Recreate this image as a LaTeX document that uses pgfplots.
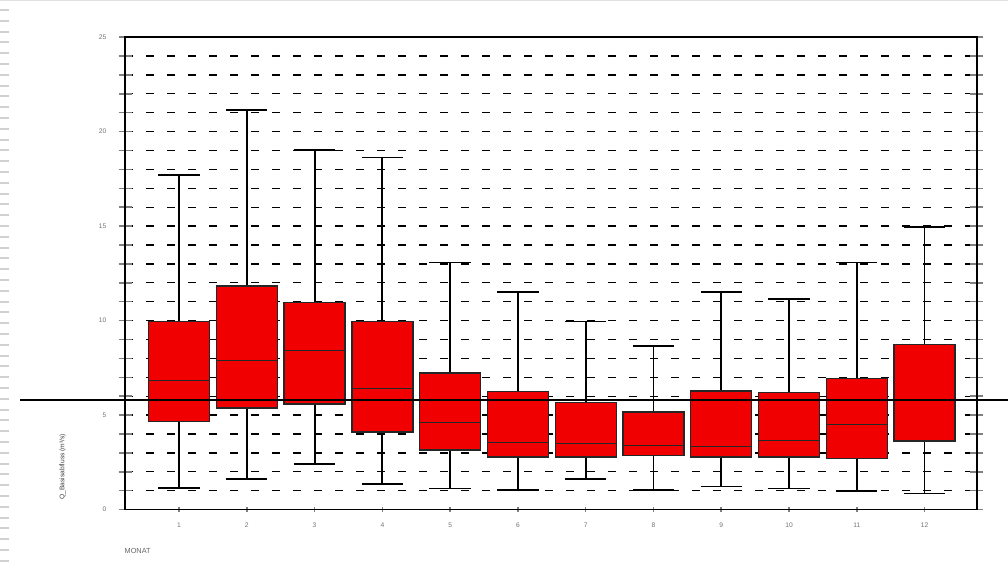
\documentclass[border=0pt]{standalone}
\usepackage{fontspec}
\setmainfont{Liberation Sans}
\usepackage{pgfplots}
\pgfplotsset{compat=1.18}
\usepgfplotslibrary{statistics}
\definecolor{boxred}{RGB}{240,0,0}
\begin{document}
\begin{tikzpicture}
\useasboundingbox (-93.98pt,-45.3pt) rectangle (662.0pt,382.2pt);
\fill[white] (-93.98pt,-45.3pt) rectangle (662.0pt,382.2pt);
\foreach \i in {0,...,52} { \draw[black!18, line width=1.6pt] (-93.98pt,{382.2pt-(10+10.8*\i)*0.75pt}) -- ++(6.8pt,0); }
\draw[black!12, line width=1pt] (-93.98pt,381.7pt) -- (662pt,381.7pt);
\begin{axis}[
  scale only axis, width=638.55pt, height=354.4pt,
  xmin=0.207, xmax=12.77, ymin=0, ymax=25,
  clip=false,
  axis line style={line width=1.3pt},
  xtick={1,...,12}, ytick={0,5,...,25}, minor ytick={1,...,24},
  xtick pos=left, ytick pos=both,
  tick align=center,
  major tick length=9.5pt, minor tick length=9.5pt,
  xtick style={/pgfplots/major tick length=4pt, line width=1.2pt},
  ytick style={line width=1.1pt},
  minor tick style={line width=1.1pt},
  ymajorgrids, yminorgrids,
  major grid style={black, dash pattern=on 6pt off 9.75pt, line width=1pt},
  minor grid style={black, dash pattern=on 6pt off 9.75pt, line width=1pt},
  /pgf/number format/assume math mode=true,
  ticklabel style={font=\fontsize{5}{6}\selectfont, color=black!55},
  yticklabel style={xshift=-6pt},
  xticklabel style={yshift=-2pt},
  xlabel={MONAT},
  xlabel style={at={(axis description cs:-0.0063,-0.0875)}, anchor=west, font=\fontsize{5.5}{6}\selectfont, color=black!60},
  ylabel={Q\_Basisabfluss (m³/s)},
  ylabel style={at={(axis description cs:-0.0736,0.0113)}, anchor=west, font=\fontsize{5}{6}\selectfont, color=black!75},
  boxplot/draw direction=y,
  boxplot/box extend=0.9,
  boxplot/whisker extend=0.61,
  boxplot/every box/.style={fill=boxred, draw=black!85, line width=1pt},
  boxplot/every whisker/.style={black, line width=1.4pt},
  boxplot/every median/.style={black!85, line width=1pt},
]
\addplot[black, boxplot prepared={draw position=1, lower whisker=1.13, lower quartile=4.65, median=6.82, upper quartile=9.95, upper whisker=17.69}] coordinates {};
\addplot[black, boxplot prepared={draw position=2, lower whisker=1.60, lower quartile=5.38, median=7.88, upper quartile=11.83, upper whisker=21.13}] coordinates {};
\addplot[black, boxplot prepared={draw position=3, lower whisker=2.41, lower quartile=5.59, median=8.43, upper quartile=10.97, upper whisker=19.02}] coordinates {};
\addplot[black, boxplot prepared={draw position=4, lower whisker=1.37, lower quartile=4.10, median=6.40, upper quartile=9.95, upper whisker=18.63}] coordinates {};
\addplot[black, boxplot prepared={draw position=5, lower whisker=1.12, lower quartile=3.16, median=4.60, upper quartile=7.22, upper whisker=13.07}] coordinates {};
\addplot[black, boxplot prepared={draw position=6, lower whisker=1.05, lower quartile=2.78, median=3.56, upper quartile=6.26, upper whisker=11.50}] coordinates {};
\addplot[black, boxplot prepared={draw position=7, lower whisker=1.62, lower quartile=2.78, median=3.50, upper quartile=5.65, upper whisker=9.95}] coordinates {};
\addplot[black, boxplot prepared={draw position=8, lower whisker=1.05, lower quartile=2.88, median=3.40, upper quartile=5.17, upper whisker=8.64}] coordinates {};
\addplot[black, boxplot prepared={draw position=9, lower whisker=1.22, lower quartile=2.78, median=3.33, upper quartile=6.27, upper whisker=11.50}] coordinates {};
\addplot[black, boxplot prepared={draw position=10, lower whisker=1.12, lower quartile=2.78, median=3.64, upper quartile=6.19, upper whisker=11.13}] coordinates {};
\addplot[black, boxplot prepared={draw position=11, lower whisker=1.00, lower quartile=2.69, median=4.49, upper quartile=6.93, upper whisker=13.07}] coordinates {};
\addplot[black, boxplot prepared={draw position=12, lower whisker=0.85, lower quartile=3.63, median=5.76, upper quartile=8.72, upper whisker=14.93}] coordinates {};
\addplot[black, line width=1.3pt, mark=none] coordinates {(-1.35,5.80) (13.24,5.80)};
\end{axis}
\end{tikzpicture}
\end{document}
